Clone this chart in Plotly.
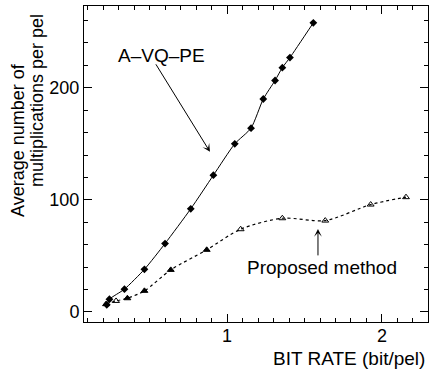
import plotly.graph_objects as go

# A-VQ-PE series
avq_x = [0.224, 0.241, 0.338, 0.467, 0.600, 0.766, 0.912, 1.050, 1.155, 1.234, 1.310, 1.357, 1.406, 1.557]
avq_y = [6.3, 11.3, 20.3, 38.0, 61.0, 92.0, 122.0, 150.0, 164.0, 190.0, 206.5, 218.0, 227.0, 258.0]

# Proposed method series
prop_x = [0.219, 0.284, 0.357, 0.467, 0.637, 0.869, 1.088, 1.357, 1.634, 1.927, 2.155]
prop_y = [6.9, 9.8, 12.2, 18.8, 37.5, 55.4, 73.8, 83.6, 81.5, 95.8, 102.4]

x_major = [1, 2]
x_major_labels = ["1", "2"]
y_major = [0, 100, 200]
y_major_labels = ["0", "100", "200"]
x_minor_step = 0.1
y_minor_step = 20

X_RANGE = [0.077, 2.297]
Y_RANGE = [-9, 273]

FONT = "Liberation Sans, Arial, Helvetica, sans-serif"

x_minor = [round(i * x_minor_step, 2) for i in range(1, 23)]
y_minor = [i * y_minor_step for i in range(0, 14)]


def labels_for(vals, majors, major_labels):
    out = []
    for v in vals:
        hit = [lab for m, lab in zip(majors, major_labels) if abs(m - v) < 1e-6]
        out.append(hit[0] if hit else "")
    return out


fig = go.Figure()
fig.add_trace(go.Scatter(
    x=avq_x, y=avq_y, mode="lines+markers",
    line=dict(color="black", width=1, shape="spline", smoothing=0.6),
    marker=dict(symbol="diamond", size=6, color="black"),
    showlegend=False,
))
prop_symbols = ["triangle-up" if (v < 1.0 and i != 1) else "triangle-up-open" for i, v in enumerate(prop_x)]
fig.add_trace(go.Scatter(
    x=prop_x, y=prop_y, mode="lines+markers",
    line=dict(color="black", width=1.2, dash="3px,3px", shape="spline", smoothing=0.8),
    marker=dict(symbol=prop_symbols, size=6, color="black", line=dict(color="black", width=1)),
    showlegend=False,
))
# invisible trace to anchor the overlay (major tick) axes
fig.add_trace(go.Scatter(x=[X_RANGE[0]], y=[Y_RANGE[0]], xaxis="x2", yaxis="y2",
                         mode="markers", marker=dict(opacity=0), showlegend=False,
                         hoverinfo="skip"))

axis_common = dict(
    showline=True, linecolor="black", linewidth=1, mirror="ticks",
    ticks="inside", tickcolor="black", tickwidth=1,
    showgrid=False, zeroline=False,
    tickfont=dict(family=FONT, size=18, color="black"),
)

fig.update_layout(
    xaxis=dict(range=X_RANGE, tickmode="array", tickvals=x_minor,
               ticktext=labels_for(x_minor, x_major, x_major_labels),
               ticklen=4, ticklabelstandoff=-3, **axis_common),
    yaxis=dict(range=Y_RANGE, tickmode="array", tickvals=y_minor,
               ticktext=labels_for(y_minor, y_major, y_major_labels),
               ticklen=4, **axis_common),
    xaxis2=dict(range=X_RANGE, overlaying="x", anchor="y2", side="bottom",
                tickmode="array", tickvals=x_major, showticklabels=False,
                ticklen=8, **{k: v for k, v in axis_common.items() if k != "tickfont"}),
    yaxis2=dict(range=Y_RANGE, overlaying="y", anchor="x2", side="left",
                tickmode="array", tickvals=y_major, showticklabels=False,
                ticklen=8, **{k: v for k, v in axis_common.items() if k != "tickfont"}),
)

annots = [
    dict(x=0.574, y=228.6, xref="x", yref="y", text="A\u2013VQ\u2013PE", showarrow=False,
         font=dict(family=FONT, size=19, color="black")),
    dict(x=0.890, y=142.9, xref="x", yref="y", ax=0.535, ay=222.3, axref="x", ayref="y",
         text="", showarrow=True, arrowhead=3, arrowsize=1.3, arrowwidth=1, arrowcolor="black"),
    dict(x=1.613, y=39.3, xref="x", yref="y", text="Proposed method", showarrow=False,
         font=dict(family=FONT, size=19, color="black")),
    dict(x=1.587, y=74.1, xref="x", yref="y", ax=1.587, ay=49.1, axref="x", ayref="y",
         text="", showarrow=True, arrowhead=3, arrowsize=1.3, arrowwidth=1, arrowcolor="black"),
]
W, H, L, R, T, B = 429, 372, 84, 1, 6, 50
pw, ph = W - L - R, H - T - B


def px(xp):
    return (xp - L) / pw


def py(yp):
    return 1 - (yp - T) / ph


annots.append(dict(x=px(427), y=py(358), xref="paper", yref="paper", text="BIT RATE (bit/pel)",
                   showarrow=False, xanchor="right", yanchor="middle",
                   font=dict(family=FONT, size=19, color="black")))
annots.append(dict(x=px(18), y=py(140), xref="paper", yref="paper",
                   text="Average number of", textangle=-90, showarrow=False,
                   xanchor="center", yanchor="middle",
                   font=dict(family=FONT, size=18, color="black")))
annots.append(dict(x=px(37), y=py(101), xref="paper", yref="paper",
                   text="multiplications per pel", textangle=-90, showarrow=False,
                   xanchor="center", yanchor="middle",
                   font=dict(family=FONT, size=18, color="black")))

fig.update_layout(
    width=W, height=H,
    margin=dict(l=L, r=R, t=T, b=B, pad=0),
    paper_bgcolor="white", plot_bgcolor="white",
    annotations=annots,
    font=dict(family=FONT, color="black"),
)

fig.write_html("out.html")
